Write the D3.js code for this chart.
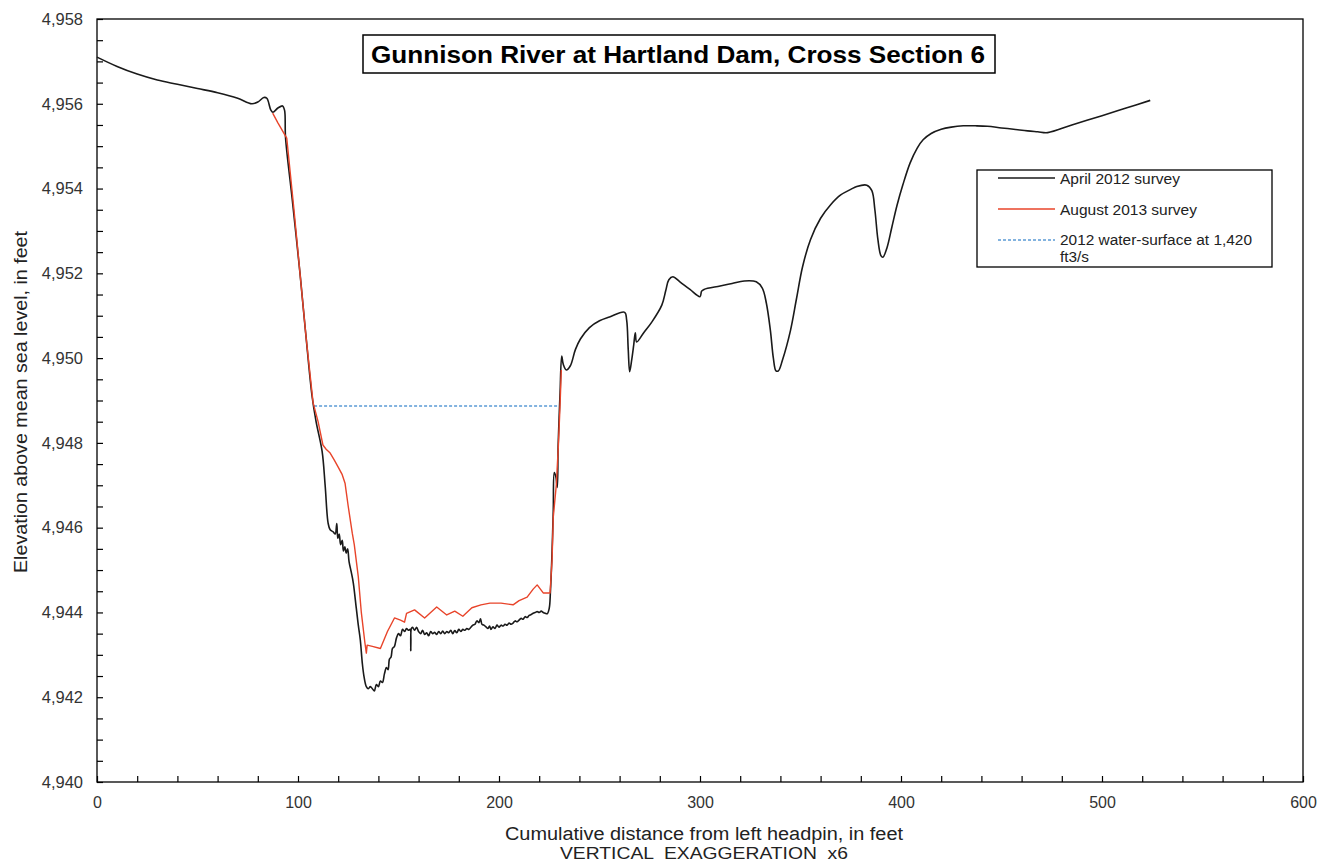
<!DOCTYPE html>
<html><head><meta charset="utf-8">
<script src="https://cdn.jsdelivr.net/npm/d3@7/dist/d3.min.js"></script>
<style>
body{margin:0;background:#fff;}
svg{display:block;font-family:"Liberation Sans",Arial,sans-serif;}
</style></head>
<body><svg id="c" width="1322" height="867"></svg>
<script>
const titleText = "Gunnison River at Hartland Dam, Cross Section 6";
const xLabel = "Cumulative distance from left headpin, in feet";
const xLabel2 = "VERTICAL  EXAGGERATION  x6";
const yLabel = "Elevation above mean sea level, in feet";
const seriesNames = ["April 2012 survey","August 2013 survey","2012 water-surface at 1,420","ft3/s"];
const xTicks = [0,100,200,300,400,500,600];
const yTicks = [4940,4942,4944,4946,4948,4950,4952,4954,4956,4958];

const april2012 = [[0,4957.10],[10,4956.88],[20,4956.70],[30,4956.56],[40,4956.46],[50,4956.36],[60,4956.26],[70,4956.13],[77,4956.00],[80,4956.04],[83,4956.15],[84.5,4956.13],[86.5,4955.85],[87.5,4955.80],[90,4955.90],[92.3,4955.95],[93.3,4955.85],[93.8,4955.20],[97,4953.8],[101,4952.0],[104,4950.5],[107,4949.1],[109,4948.5],[112,4947.8],[113.5,4947.0],[115,4946.1],[116,4945.95],[117.5,4945.90],[118.5,4945.85],[119.3,4946.1],[119.8,4945.75],[120.5,4945.85],[121.2,4945.6],[122,4945.7],[122.6,4945.45],[123.3,4945.55],[124,4945.4],[124.7,4945.5],[125.4,4945.2],[126.5,4944.95],[127.5,4944.7],[129,4944.1],[130,4943.7],[131,4943.35],[132,4942.8],[132.8,4942.5],[134,4942.25],[135,4942.2],[136,4942.25],[137,4942.2],[138,4942.15],[139,4942.3],[140,4942.25],[141,4942.38],[142,4942.35],[143,4942.55],[144,4942.7],[144.8,4942.65],[145.5,4942.9],[146.3,4942.95],[147,4943.15],[148,4943.2],[149,4943.4],[150,4943.5],[151,4943.45],[152,4943.6],[153,4943.55],[154,4943.62],[155,4943.58],[155.8,4943.6],[156.1,4943.1],[156.4,4943.62],[157,4943.65],[158,4943.58],[159,4943.65],[160,4943.55],[161,4943.5],[162,4943.58],[163,4943.48],[164,4943.52],[165,4943.45],[166,4943.55],[167,4943.5],[168,4943.53],[169,4943.48],[170,4943.55],[171,4943.5],[172,4943.56],[173,4943.5],[174,4943.55],[175,4943.52],[176,4943.58],[177,4943.5],[178,4943.57],[179,4943.52],[180,4943.6],[181,4943.55],[182,4943.6],[183,4943.58],[184,4943.62],[185,4943.6],[186,4943.65],[187,4943.7],[188,4943.72],[189,4943.8],[190,4943.76],[190.8,4943.85],[191.5,4943.72],[192.5,4943.7],[193.5,4943.66],[194.5,4943.62],[195.3,4943.68],[196,4943.6],[197,4943.66],[198,4943.62],[199,4943.7],[200,4943.65],[201,4943.7],[202,4943.68],[203,4943.72],[204,4943.7],[205,4943.75],[206,4943.72],[207,4943.75],[208,4943.8],[209,4943.78],[210,4943.82],[211,4943.86],[212,4943.84],[213,4943.9],[214,4943.88],[215,4943.93],[216,4943.95],[217,4943.98],[218,4944.0],[219,4944.02],[220,4944.0],[221,4944.03],[222,4944.0],[223,4943.98],[224,4943.97],[225,4944.1],[225.6,4944.5],[226.3,4945.3],[227,4946.4],[227.5,4947.3],[228.3,4947.2],[229,4946.95],[229.4,4947.9],[229.9,4948.6],[230.4,4949.2],[231.2,4950.05],[232,4949.85],[233.5,4949.72],[235.5,4949.82],[238,4950.2],[240.5,4950.45],[245,4950.72],[250,4950.88],[255,4950.97],[262.5,4951.08],[263.5,4950.9],[264.3,4950.2],[265,4949.68],[266,4949.95],[267,4950.3],[267.8,4950.6],[268.5,4950.38],[272,4950.6],[276,4950.85],[281,4951.25],[283,4951.6],[284.5,4951.85],[286.5,4951.92],[290,4951.8],[295,4951.62],[300,4951.45],[300.8,4951.58],[302,4951.62],[310,4951.7],[316,4951.76],[322,4951.82],[328,4951.8],[331,4951.65],[333,4951.3],[335,4950.66],[336.5,4950.0],[337.8,4949.7],[339,4949.7],[341,4949.95],[345,4950.65],[348,4951.4],[351,4952.15],[355,4952.8],[360,4953.3],[365,4953.62],[370,4953.85],[375,4953.98],[378,4954.05],[383,4954.08],[385.5,4953.95],[387,4953.5],[388.5,4952.8],[390,4952.42],[391,4952.38],[393,4952.6],[395.5,4953.1],[398,4953.6],[401,4954.1],[404.5,4954.6],[408,4954.95],[411,4955.15],[415,4955.3],[420,4955.4],[425,4955.45],[431,4955.48],[437,4955.48],[443,4955.47],[450,4955.43],[456,4955.4],[463,4955.36],[468,4955.34],[473,4955.32],[485,4955.5],[500,4955.72],[512,4955.9],[524,4956.08]];

const august2013 = [[87.4,4955.78],[90,4955.55],[94.4,4955.19],[98,4953.5],[101,4952.0],[104,4950.5],[107.5,4948.95],[110,4948.5],[112.4,4947.95],[114,4947.85],[116,4947.76],[118,4947.6],[120,4947.43],[122,4947.25],[123.4,4947.05],[125,4946.5],[127,4945.87],[128,4945.6],[130,4944.84],[131.5,4944.0],[133.3,4943.28],[134,4943.04],[134.4,4943.23],[137,4943.2],[141,4943.15],[144.5,4943.55],[148,4943.87],[151,4943.82],[153,4943.77],[154,4943.98],[158,4944.06],[163,4943.87],[169,4944.13],[174,4943.94],[178,4944.03],[182,4943.91],[186.5,4944.11],[191,4944.18],[195.5,4944.22],[201,4944.22],[207,4944.18],[210,4944.28],[214,4944.36],[217,4944.55],[219,4944.65],[222,4944.46],[225.4,4944.46],[226.4,4945.24],[227,4946.25],[228.5,4947.0],[229.5,4947.9],[230.3,4948.8],[231,4949.72]];

const waterSurface = [[108,4948.87],[229.5,4948.87]];

const svg = d3.select("#c");
const m = {l:97, r:1303, t:19, b:782};
const x = d3.scaleLinear().domain([0,600]).range([m.l,m.r]);
const y = d3.scaleLinear().domain([4940,4958]).range([m.b,m.t]);

const xMinor = d3.range(0,601,20);
const yMinor = d3.range(4940,4958.01,0.5);

svg.append("rect").attr("x",m.l).attr("y",m.t).attr("width",m.r-m.l).attr("height",m.b-m.t)
  .attr("fill","none").attr("stroke","#000").attr("stroke-width",1.3);

const xAxis = svg.append("g").attr("transform",`translate(0,${m.b})`)
  .call(d3.axisBottom(x).tickValues(xMinor).tickSize(-6).tickFormat(d => xTicks.includes(d) ? d : "").tickPadding(15));
xAxis.select(".domain").remove();
xAxis.selectAll("line").attr("stroke","#000").attr("stroke-width",1.2);
xAxis.selectAll("text").attr("font-size",16).attr("fill","#333").attr("font-family","Liberation Sans, Arial, sans-serif");

const fmt = d3.format(",");
const yAxis = svg.append("g").attr("transform",`translate(${m.l},0)`)
  .call(d3.axisLeft(y).tickValues(yMinor).tickSize(-6).tickFormat(d => Number.isInteger(d) && yTicks.includes(d) ? fmt(d) : "").tickPadding(14));
yAxis.select(".domain").remove();
yAxis.selectAll("line").attr("stroke","#000").attr("stroke-width",1.2);
yAxis.selectAll("text").attr("font-size",16.5).attr("fill","#333").attr("font-family","Liberation Sans, Arial, sans-serif");

const lineLin = d3.line().x(d=>x(d[0])).y(d=>y(d[1]));
const lineSmooth = d3.line().x(d=>x(d[0])).y(d=>y(d[1])).curve(d3.curveCatmullRom.alpha(0.5));

svg.append("path").datum(waterSurface).attr("d",lineLin).attr("fill","none")
  .attr("stroke","#5b9bd5").attr("stroke-width",1.3).attr("stroke-dasharray","3,2");
svg.append("path").datum(april2012).attr("d",lineSmooth).attr("fill","none")
  .attr("stroke","#1a1a1a").attr("stroke-width",1.6).attr("stroke-linejoin","round");
svg.append("path").datum(august2013).attr("d",lineLin).attr("fill","none")
  .attr("stroke","#e8442a").attr("stroke-width",1.4).attr("stroke-linejoin","round");

// title
svg.append("rect").attr("x",363).attr("y",35).attr("width",632).attr("height",38)
  .attr("fill","#fff").attr("stroke","#000").attr("stroke-width",1.5);
svg.append("text").attr("x",678).attr("y",63).attr("text-anchor","middle")
  .attr("font-size",23).attr("font-weight","bold").attr("fill","#000")
  .attr("textLength",614).attr("lengthAdjust","spacingAndGlyphs").text(titleText);

// axis labels
svg.append("text").attr("x",704).attr("y",840).attr("text-anchor","middle").attr("font-size",18).attr("fill","#222")
  .attr("textLength",398).attr("lengthAdjust","spacingAndGlyphs").text(xLabel);
svg.append("text").attr("x",704).attr("y",859).attr("text-anchor","middle").attr("font-size",17).attr("fill","#222")
  .style("white-space","pre").attr("textLength",288).attr("lengthAdjust","spacingAndGlyphs").text(xLabel2);
svg.append("text").attr("transform","translate(27,402) rotate(-90)").attr("text-anchor","middle").attr("font-size",18).attr("fill","#222")
  .attr("textLength",342).attr("lengthAdjust","spacingAndGlyphs").text(yLabel);

// legend
const lg = svg.append("g");
lg.append("rect").attr("x",977).attr("y",170).attr("width",295).attr("height",97).attr("fill","#fff").attr("stroke","#000").attr("stroke-width",1.3);
const legItems = [
  {name:seriesNames[0], color:"#1a1a1a", dash:null, y:178, w:120, ty:184},
  {name:seriesNames[1], color:"#e8442a", dash:null, y:209, w:137, ty:215},
  {name:seriesNames[2], color:"#5b9bd5", dash:"3,2", y:240, w:192, ty:245}
];
legItems.forEach(it=>{
  lg.append("line").attr("x1",998).attr("x2",1055).attr("y1",it.y).attr("y2",it.y)
    .attr("stroke",it.color).attr("stroke-width",1.5).attr("stroke-dasharray",it.dash);
  lg.append("text").attr("x",1060).attr("y",it.ty).attr("font-size",14).attr("fill","#222")
    .attr("textLength",it.w).attr("lengthAdjust","spacingAndGlyphs").text(it.name);
});
lg.append("text").attr("x",1060).attr("y",262).attr("font-size",14).attr("fill","#222")
  .attr("textLength",29).attr("lengthAdjust","spacingAndGlyphs").text(seriesNames[3]);
</script></body></html>
